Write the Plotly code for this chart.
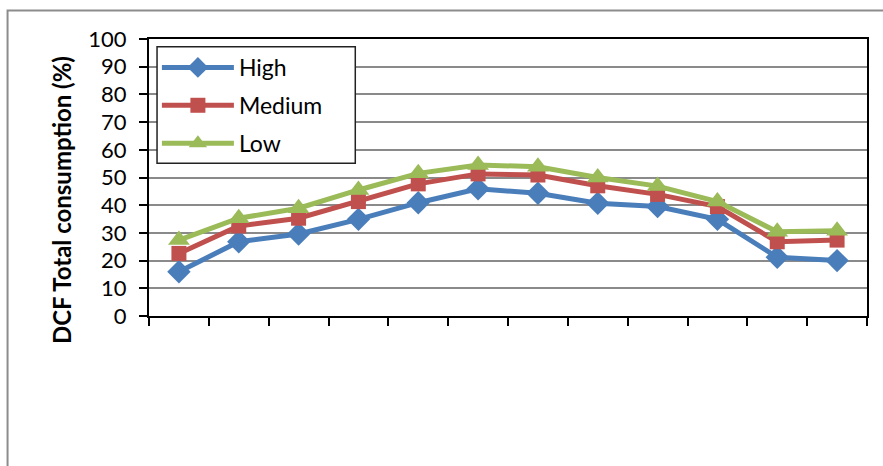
import plotly.graph_objects as go

# Twelve periods along the x axis (no labels drawn)
periods = list(range(1, 13))

# DCF total consumption (%) per scenario
high = [16.0, 26.8, 29.6, 34.9, 40.9, 45.9, 44.3, 40.7, 39.5, 34.9, 21.2, 20.0]
medium = [22.6, 32.5, 35.3, 41.3, 47.7, 51.3, 50.9, 47.0, 43.9, 39.5, 26.8, 27.4]
low = [27.4, 35.3, 38.9, 45.5, 51.5, 54.5, 53.9, 50.0, 46.9, 41.3, 30.4, 30.8]

y_ticks = list(range(0, 101, 10))

series = [
    ("High", high, "#4A7EBB", "diamond", 18),
    ("Medium", medium, "#C0504D", "square", 15),
    ("Low", low, "#9BBB59", "triangle-up", 19),
]

fig = go.Figure()
for name, vals, color, symbol, size in series:
    fig.add_trace(go.Scatter(
        x=periods, y=vals, name=name, legendgroup=name,
        mode="lines+markers",
        line=dict(color=color, width=5),
        marker=dict(symbol=symbol, size=size, color=color),
    ))

font_family = "Lato, 'Open Sans', sans-serif"

fig.update_layout(
    width=883, height=466,
    margin=dict(l=149, r=16, t=39, b=150),
    paper_bgcolor="white", plot_bgcolor="white",
    font=dict(family=font_family, color="black"),
    showlegend=True,
    legend=dict(
        x=0.011, y=0.975, xanchor="left", yanchor="top",
        bgcolor="rgba(0,0,0,0)", borderwidth=0,
        font=dict(size=23, family=font_family),
        itemwidth=72, traceorder="grouped", tracegroupgap=5,
    ),
    xaxis=dict(
        range=[0.5, 12.5],
        tickvals=[p - 0.5 for p in periods] + [12.5],
        showticklabels=False, ticks="outside", ticklen=8, tickwidth=2,
        tickcolor="black", showgrid=False, zeroline=False,
        showline=True, linecolor="black", linewidth=2, mirror=True,
    ),
    yaxis=dict(
        range=[0, 100], tickvals=y_ticks,
        ticks="outside", ticklen=8, tickwidth=2, tickcolor="black",
        tickfont=dict(size=22, family=font_family),
        ticklabelstandoff=8,
        showgrid=True, gridcolor="#8a8a8a", gridwidth=1.8,
        zeroline=False,
        showline=True, linecolor="black", linewidth=2, mirror=True,
    ),
    annotations=[dict(
        text="<b>DCF Total consumption (%)</b>",
        textangle=-90, xref="paper", yref="paper",
        x=-0.121, y=0.419, xanchor="center", yanchor="middle",
        showarrow=False, font=dict(size=24, family=font_family),
    )],
    shapes=[
        # outer chart frame
        dict(
            type="rect", xref="paper", yref="paper",
            x0=-0.197, y0=-0.6, x1=1.05, y1=1.103,
            line=dict(color="#8c8c8c", width=2), layer="below",
        ),
        # legend box
        dict(
            type="rect", xref="paper", yref="paper",
            x0=0.0112, y0=0.5513, x1=0.2873, y1=0.9722,
            fillcolor="white", line=dict(color="#222222", width=1.5),
            layer="above",
        ),
    ],
)

fig.write_html("out.html")
